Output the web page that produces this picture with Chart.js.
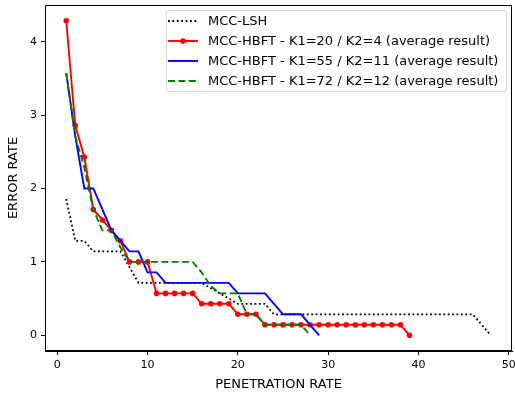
<!DOCTYPE html>
<html>
<head>
<meta charset="utf-8">
<script src="https://cdn.jsdelivr.net/npm/chart.js@4/dist/chart.umd.min.js"></script>
<style>
html,body{margin:0;padding:0;background:#fff;overflow:hidden;width:515px;height:394px;}
#wrap{position:relative;width:515px;height:394px;}
#c{position:absolute;left:0;top:0;}
#legend{position:absolute;left:166px;top:10px;width:341px;height:82px;border:1px solid #d4d4d4;border-radius:3px;background:rgba(255,255,255,0.8);box-sizing:border-box;font-family:"DejaVu Sans";font-size:13px;color:#000;}
.row{position:absolute;left:0;width:338px;height:20px;}
.row svg{position:absolute;left:0px;top:0;}
.row span{position:absolute;left:41px;top:0;line-height:20px;white-space:nowrap;}
</style>
</head>
<body>
<div id="wrap">
<canvas id="c" width="515" height="394"></canvas>
<div id="legend"></div>
</div>
<script>
// ---- data ----
const penetrationRate = [1,2,3,4,5,6,7,8,9,10,11,12,13,14,15,16,17,18,19,20,21,22,23,24,25,26,27,28,29,30,31,32,33,34,35,36,37,38,39,40,41,42,43,44,45,46,47,48];
const mccLsh = [1.857,1.286,1.286,1.143,1.143,1.143,1.143,0.929,0.714,0.714,0.714,0.714,0.714,0.714,0.714,0.714,0.643,0.571,0.5,0.429,0.429,0.429,0.429,0.286,0.286,0.286,0.286,0.286,0.286,0.286,0.286,0.286,0.286,0.286,0.286,0.286,0.286,0.286,0.286,0.286,0.286,0.286,0.286,0.286,0.286,0.286,0.143,0];
const hbftK20 = [4.286,2.857,2.429,1.714,1.571,1.429,1.286,1.0,1.0,1.0,0.571,0.571,0.571,0.571,0.571,0.429,0.429,0.429,0.429,0.286,0.286,0.286,0.143,0.143,0.143,0.143,0.143,0.143,0.143,0.143,0.143,0.143,0.143,0.143,0.143,0.143,0.143,0.143,0];
const hbftK55 = [3.571,2.714,2.0,2.0,1.714,1.429,1.286,1.143,1.143,0.857,0.857,0.714,0.714,0.714,0.714,0.714,0.714,0.714,0.714,0.571,0.571,0.571,0.571,0.429,0.286,0.286,0.286,0.143,0];
const hbftK72 = [3.571,2.714,2.286,1.714,1.429,1.429,1.2,1.0,1.0,1.0,1.0,1.0,1.0,1.0,1.0,0.857,0.67,0.571,0.571,0.571,0.286,0.286,0.143,0.143,0.143,0.143,0.143,0];
const seriesLabels = ['MCC-LSH','MCC-HBFT - K1=20 / K2=4 (average result)','MCC-HBFT - K1=55 / K2=11 (average result)','MCC-HBFT - K1=72 / K2=12 (average result)'];
const xTicks = [0,10,20,30,40,50];
const yTicks = [0,1,2,3,4];
const xTitle = 'PENETRATION RATE';
const yTitle = 'ERROR RATE';

// ---- styles ----
const colors = ['#000000','#ff0000','#0000ff','#008000'];
const dashes = [[1.8,2.6],[],[],[7,3.4]];
const FONT = 'DejaVu Sans';

const toPoints = ys => ys.map((y,i) => ({x: penetrationRate[i], y: y}));
const allSeries = [mccLsh, hbftK20, hbftK55, hbftK72];

const datasets = allSeries.map((ys, k) => ({
  label: seriesLabels[k],
  data: toPoints(ys),
  borderColor: colors[k],
  backgroundColor: colors[k],
  borderWidth: k === 0 ? 1.8 : 1.9,
  borderDash: dashes[k],
  pointRadius: k === 1 ? 2.8 : 0,
  pointBorderWidth: 0,
  pointBackgroundColor: colors[k],
  pointHoverRadius: k === 1 ? 2.8 : 0,
  tension: 0,
  fill: false,
  order: 4 - k
}));

const frame = {
  id: 'frame',
  afterDraw(chart) {
    const a = chart.chartArea, ctx = chart.ctx;
    ctx.save();
    ctx.strokeStyle = '#000';
    ctx.lineWidth = 1;
    ctx.strokeRect(Math.round(a.left)+0.5, Math.round(a.top)+0.5, Math.round(a.right-a.left)-1, Math.round(a.bottom-a.top)-1);
    ctx.restore();
  }
};

function zeroPad(s){ s.paddingLeft=0; s.paddingRight=0; s.paddingTop=0; s.paddingBottom=0; }

new Chart(document.getElementById('c'), {
  type: 'line',
  data: { datasets },
  plugins: [frame],
  options: {
    responsive: false,
    animation: false,
    devicePixelRatio: 1,
    layout: { padding: { left: 0, right: 3, top: 5, bottom: 0 } },
    plugins: { legend: { display: false }, tooltip: { enabled: false } },
    scales: {
      x: {
        type: 'linear',
        min: -1.35, max: 50.35,
        afterBuildTicks: s => { s.ticks = xTicks.map(v => ({value: v})); },
        afterFit: s => { s.height = 43; zeroPad(s); },
        ticks: { color: '#000', padding: 4, font: { family: FONT, size: 11 }, maxRotation: 0, autoSkip: false },
        grid: { display: true, drawOnChartArea: false, drawTicks: true, tickLength: 4, color: '#000' },
        border: { display: true, color: '#000' },
        title: { display: true, text: xTitle, color: '#000', font: { family: FONT, size: 13 }, padding: { top: 0, bottom: 2 } }
      },
      y: {
        type: 'linear',
        min: -0.214, max: 4.5,
        afterBuildTicks: s => { s.ticks = yTicks.map(v => ({value: v})); },
        afterFit: s => { s.width = 45; zeroPad(s); },
        ticks: { color: '#000', padding: 4, font: { family: FONT, size: 11 } },
        grid: { display: true, drawOnChartArea: false, drawTicks: true, tickLength: 4, color: '#000' },
        border: { display: true, color: '#000' },
        title: { display: true, text: yTitle, color: '#000', font: { family: FONT, size: 13 }, padding: { top: 6, bottom: 0 } }
      }
    }
  }
});

// ---- legend (HTML, real text) ----
const legend = document.getElementById('legend');
seriesLabels.forEach((lab, k) => {
  const row = document.createElement('div');
  row.className = 'row';
  row.style.top = (-0.5 + 20*k) + 'px';
  const dash = dashes[k].length ? 'stroke-dasharray="' + dashes[k].join(' ') + '"' : '';
  const marker = k === 1 ? '<circle cx="16" cy="10" r="2.8" fill="' + colors[k] + '"/>' : '';
  row.innerHTML = '<svg width="34" height="20"><line x1="1" y1="10" x2="31" y2="10" stroke="' + colors[k] + '" stroke-width="1.9" ' + dash + '/>' + marker + '</svg><span></span>';
  row.querySelector('span').textContent = lab;
  legend.appendChild(row);
});
</script>
</body>
</html>
